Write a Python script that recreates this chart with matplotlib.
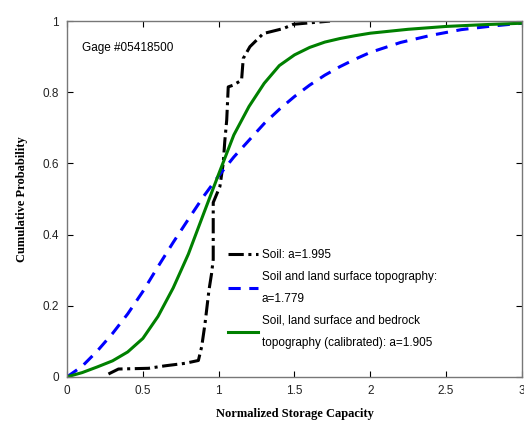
import numpy as np
import matplotlib
matplotlib.use("Agg")
import matplotlib.pyplot as plt

# ── Data ────────────────────────────────────────────────────────────
soil_x = [0.273, 0.339, 0.537, 0.646, 0.778, 0.866, 0.888, 0.91, 0.936, 0.953,
          0.964, 0.964, 1.008, 1.03, 1.04, 1.053, 1.063, 1.096, 1.151, 1.162,
          1.206, 1.294, 1.426, 1.492, 1.624, 1.734]
soil_y = [0.008, 0.022, 0.024, 0.031, 0.038, 0.046, 0.085, 0.15, 0.244, 0.29,
          0.33, 0.49, 0.535, 0.6, 0.661, 0.722, 0.815, 0.82, 0.834, 0.895,
          0.928, 0.965, 0.979, 0.991, 0.996, 1.0]

topo_x = [0.0, 0.1, 0.2, 0.3, 0.4, 0.5, 0.6, 0.7, 0.8, 0.9, 1.0, 1.1, 1.2,
          1.3, 1.4, 1.5, 1.6, 1.7, 1.8, 1.9, 2.0, 2.2, 2.4, 2.6, 2.8, 3.0]
topo_y = [0.0, 0.03, 0.073, 0.122, 0.177, 0.24, 0.31, 0.378, 0.443, 0.507,
          0.565, 0.618, 0.665, 0.712, 0.752, 0.788, 0.82, 0.848, 0.872, 0.893,
          0.912, 0.94, 0.96, 0.976, 0.986, 0.994]

bed_x = [0.0, 0.1, 0.2, 0.3, 0.4, 0.5, 0.6, 0.7, 0.8, 0.9, 1.0, 1.1, 1.2,
         1.3, 1.4, 1.5, 1.6, 1.7, 1.8, 1.9, 2.0, 2.25, 2.5, 2.75, 3.0]
bed_y = [0.0, 0.012, 0.028, 0.045, 0.07, 0.108, 0.17, 0.25, 0.345, 0.458,
         0.57, 0.68, 0.76, 0.825, 0.875, 0.905, 0.926, 0.941, 0.951, 0.959,
         0.966, 0.977, 0.985, 0.99, 0.994]

labels = ["Soil: a=1.995",
          "Soil and land surface topography:\na=1.779",
          "Soil, land surface and bedrock\ntopography (calibrated): a=1.905"]

x_ticks = [0, 0.5, 1, 1.5, 2, 2.5, 3]
x_tick_labels = ["0", "0.5", "1", "1.5", "2", "2.5", "3"]
y_ticks = [0, 0.2, 0.4, 0.6, 0.8, 1]
y_tick_labels = ["0", "0.2", "0.4", "0.6", "0.8", "1"]

plt.rcParams["font.family"] = ["Liberation Sans", "DejaVu Sans"]

fig = plt.figure(figsize=(5.24, 4.22), dpi=100)
ax = fig.add_axes([0.128, 0.107, 0.868, 0.843])

ax.plot(soil_x, soil_y, color="black", lw=2.2, linestyle=(0, (5, 1.5, 1, 1.5)),
        label=labels[0])
ax.plot(topo_x, topo_y, color="#0000FF", lw=2.2, linestyle=(0, (4, 2.8)),
        label=labels[1])
ax.plot(bed_x, bed_y, color="#008000", lw=2.2, label=labels[2])

ax.set_xlim(0, 3)
ax.set_ylim(0, 1)
ax.set_xticks(x_ticks)
ax.set_xticklabels(x_tick_labels)
ax.set_yticks(y_ticks)
ax.set_yticklabels(y_tick_labels)
ax.tick_params(direction="in", length=4, width=0.8, labelsize=8.5,
               top=True, right=True, colors="black", labelcolor="#222222",
               pad=6)
for s in ax.spines.values():
    s.set_color("#777777")
    s.set_linewidth(1.0)

ax.set_xlabel("Normalized Storage Capacity", family="Liberation Serif",
              fontweight="bold", fontsize=9, labelpad=8)
ax.set_ylabel("Cumulative Probability", family="Liberation Serif",
              fontweight="bold", fontsize=9, labelpad=10)

ax.text(0.1, 0.924, "Gage #05418500", fontsize=8.5, va="center", ha="left")

ax.legend(loc="upper left", bbox_to_anchor=(0.354, 0.36), frameon=False,
          fontsize=8.5, handlelength=2.5, handletextpad=0.35,
          labelspacing=0.85, borderaxespad=0.0, borderpad=0.0)
for t in ax.get_legend().get_texts():
    t.set_linespacing(2.1)

fig.savefig("out.png", dpi=100)
